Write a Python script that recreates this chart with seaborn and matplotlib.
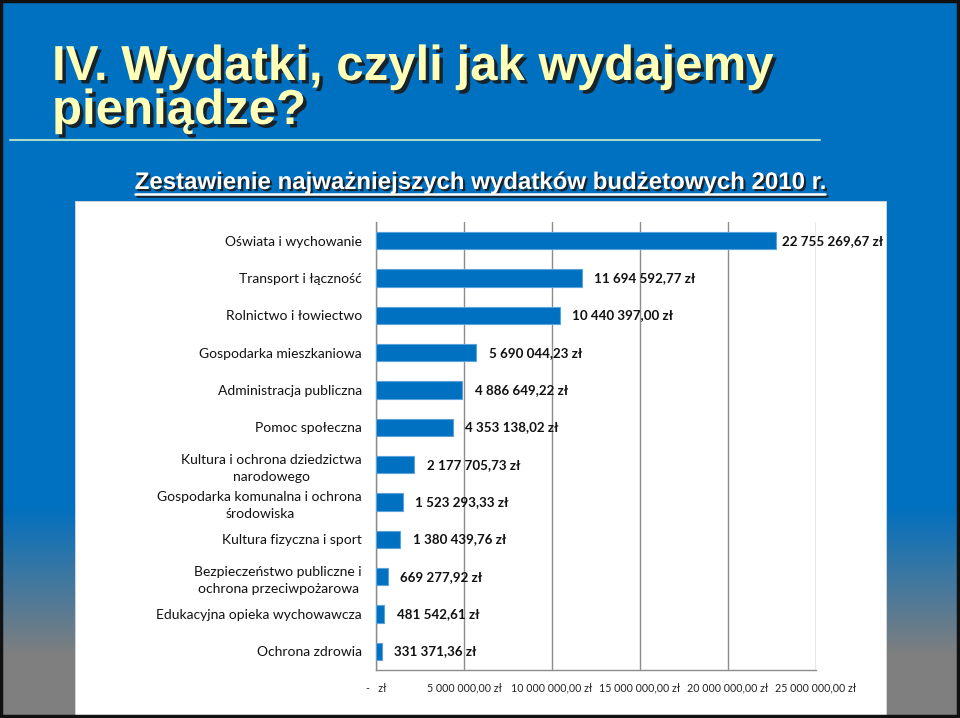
import numpy as np
import pandas as pd
import matplotlib
matplotlib.use("Agg")
import matplotlib.pyplot as plt
import matplotlib.patheffects as pe
from matplotlib.patches import Rectangle
import seaborn as sns

# === Data ===
categories = [
    "Oświata i wychowanie",
    "Transport i łączność",
    "Rolnictwo i łowiectwo",
    "Gospodarka mieszkaniowa",
    "Administracja publiczna",
    "Pomoc społeczna",
    "Kultura i ochrona dziedzictwa\nnarodowego",
    "Gospodarka komunalna i ochrona\nśrodowiska",
    "Kultura fizyczna i sport",
    "Bezpieczeństwo publiczne i\nochrona przeciwpożarowa",
    "Edukacyjna opieka wychowawcza",
    "Ochrona zdrowia",
]
values = [
    22755269.67, 11694592.77, 10440397.00, 5690044.23, 4886649.22,
    4353138.02, 2177705.73, 1523293.33, 1380439.76, 669277.92,
    481542.61, 331371.36,
]
x_ticks = [0, 5000000, 10000000, 15000000, 20000000, 25000000]

TITLE_1 = "IV. Wydatki, czyli jak wydajemy"
TITLE_2 = "pieniądze?"
SUBTITLE = "Zestawienie najważniejszych wydatków budżetowych 2010 r."

# === Colours ===
SLIDE_BLUE = "#0070C0"
SLIDE_GRAY = "#7F7F7F"
BAR_BLUE = "#0070C0"


def fmt_pln(v):
    if v == 0:
        return "-   zł"
    s = f"{v:,.2f}".replace(",", " ").replace(".", ",")
    return s + " zł"


sns.set_style("white")
plt.rcParams["font.family"] = ["Lato", "DejaVu Sans"]
HEAD_FONT = ["Liberation Sans", "DejaVu Sans"]

W, H = 960, 718
fig = plt.figure(figsize=(W / 100, H / 100), dpi=100)

# === Slide background ===
bg = fig.add_axes([0, 0, 1, 1])
bg.axis("off")
bg.add_patch(Rectangle((0, 0), W, H, color=SLIDE_BLUE, zorder=0))

blue_rgb = np.array(matplotlib.colors.to_rgb(SLIDE_BLUE))
gray_rgb = np.array(matplotlib.colors.to_rgb(SLIDE_GRAY))
t = np.linspace(0, 1, 200)[:, None]
grad = (blue_rgb * (1 - t) + gray_rgb * t)[:, None, :]
for x0, x1 in [(0, 75), (886, W)]:
    bg.imshow(grad, extent=(x0, x1, 655, 505), aspect="auto", zorder=1)
    bg.add_patch(Rectangle((x0, 655), x1 - x0, H - 655, color=SLIDE_GRAY, zorder=1))

bg.add_patch(Rectangle((75, 201), 811, 515, facecolor="white", edgecolor="#D9D9D9",
                       lw=0.6, zorder=2))
bg.plot([10, 820], [140, 140], color="#A8DCC8", lw=1.5, zorder=2)
bg.add_patch(Rectangle((1, 1), W - 3, H - 3, fill=False, edgecolor="#111111", lw=2.5, zorder=5))

shadow = [pe.withSimplePatchShadow(offset=(2.5, -2.5), shadow_rgbFace="#1a1a1a", alpha=0.9)]
for line, y in [(TITLE_1, 80), (TITLE_2, 124)]:
    bg.text(52, y, line, color="#FFFFB8", fontsize=35.4, fontweight="bold",
            family=HEAD_FONT, va="baseline", ha="left", zorder=4, path_effects=shadow)

small_shadow = [pe.withSimplePatchShadow(offset=(1.5, -1.5), shadow_rgbFace="#1a1a1a", alpha=0.9)]
bg.text(480, 189, SUBTITLE, color="white", fontsize=17.3, fontweight="bold",
        family=HEAD_FONT, va="baseline", ha="center", zorder=4, path_effects=small_shadow)
bg.plot([135, 825], [193.5, 193.5], color="white", lw=1.8, zorder=4,
        path_effects=[pe.SimpleLineShadow(offset=(1.5, -1.5), shadow_color="#1a1a1a", alpha=0.9),
                      pe.Normal()])
bg.set_xlim(0, W)
bg.set_ylim(H, 0)

# === Chart ===
ax = fig.add_axes([376 / W, 1 - 670 / H, 440 / W, 448 / H])
ax.set_facecolor("none")
df = pd.DataFrame({"kategoria": categories, "kwota": values})
sns.barplot(data=df, y="kategoria", x="kwota", orient="h", color=BAR_BLUE,
            saturation=1, width=0.46, edgecolor="#5BA3DD", linewidth=0.8, ax=ax, zorder=3)

ax.set_xlim(0, 25000000)
ax.set_ylim(len(categories) - 0.5, -0.5)
ax.set_xticks(x_ticks)
ax.set_xticklabels([fmt_pln(v) for v in x_ticks], fontsize=7.7, color="#222222")
ax.grid(axis="x", color="#8C8C8C", lw=1.0, zorder=0)
ax.grid(axis="y", visible=False)
ax.set_xlabel("")
ax.set_ylabel("")

for side in ["top", "right"]:
    ax.spines[side].set_visible(False)
for side in ["left", "bottom"]:
    ax.spines[side].set_color("#8C8C8C")
    ax.spines[side].set_linewidth(1.0)

ax.set_yticks(range(len(categories)))
ax.set_yticklabels(categories, fontsize=10, color="#111111")
for lbl in ax.get_yticklabels():
    lbl.set_multialignment("center")
    lbl.set_linespacing(1.5)
ax.set_yticks(np.arange(-0.5, len(categories), 1), minor=True)
ax.tick_params(axis="y", which="major", length=0, pad=10)
ax.tick_params(axis="y", which="minor", length=4, color="#8C8C8C", direction="out")
ax.tick_params(axis="x", which="major", length=5, color="#8C8C8C", direction="out", pad=4)

labels = []
for i, v in enumerate(values):
    ann = ax.annotate(fmt_pln(v), xy=(v, i), xytext=(9, 0), textcoords="offset points",
                      va="center", ha="left", fontsize=9.6, fontweight="bold",
                      color="#111111", zorder=4)
    labels.append(ann)

# keep value labels inside the white chart area (like Excel does)
fig.canvas.draw()
renderer = fig.canvas.get_renderer()
for ann in labels:
    bb = ann.get_window_extent(renderer)
    overflow = bb.x1 - 880
    if overflow > 0:
        dx, dy = ann.xyann
        ann.xyann = (max(dx - overflow * 72 / 100, 4), dy)

fig.savefig("out.png", dpi=100)
